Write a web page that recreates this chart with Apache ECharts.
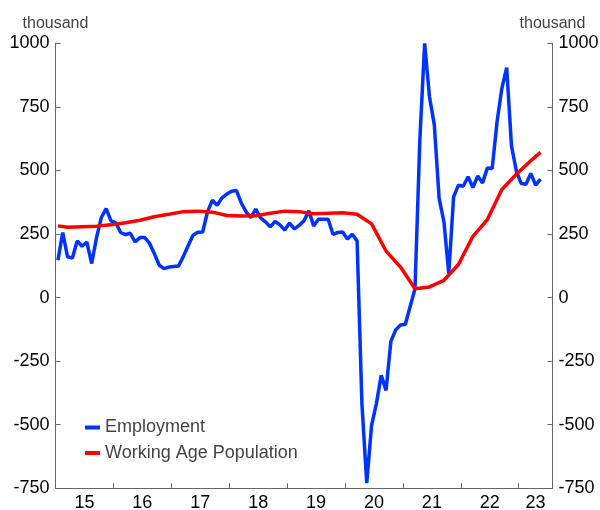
<!DOCTYPE html>
<html>
<head>
<meta charset="utf-8">
<script src="https://cdn.jsdelivr.net/npm/echarts@6/dist/echarts.min.js"></script>
<style>
html,body{margin:0;padding:0;background:#fff;}
#chart{width:600px;height:510px;}
</style>
</head>
<body>
<div id="chart"></div>
<script>
// ---- Data ----
const employmentStart = '2015-01';
const employment = [
  147, 256, 160, 156, 223, 202, 218, 134, 236, 315, 350, 302,
  294, 256, 248, 253, 219, 236, 236, 213, 172, 127, 114, 120,
  122, 124, 162, 205, 245, 257, 258, 337, 383, 363, 392, 407,
  418, 421, 372, 337, 315, 348, 313, 298, 278, 300, 286, 266,
  293, 270, 284, 302, 341, 282, 308, 308, 308, 249, 256, 258,
  230, 249, 223, -417, -730, -503, -417, -306, -365, -172, -127, -108,
  -105, -35, 35, 619, 1000, 790, 680, 390, 298, 94, 396, 442,
  438, 475, 433, 478, 451, 510, 508, 691, 823, 904, 596, 498,
  449, 446, 488, 442, 466
];
const populationMonths = [
  '2015-01','2015-03','2015-06','2015-09','2015-12',
  '2016-03','2016-06','2016-09','2016-12',
  '2017-03','2017-06','2017-09','2017-12',
  '2018-03','2018-06','2018-09','2018-12',
  '2019-03','2019-06','2019-09','2019-12',
  '2020-03','2020-06','2020-09','2020-12',
  '2021-03','2021-06','2021-09','2021-12',
  '2022-03','2022-06','2022-09','2022-12',
  '2023-03','2023-05'
];
const population = [
  282, 277, 279, 281, 286,
  294, 304, 318, 328,
  338, 340, 336, 323,
  321, 322, 332, 340,
  338, 330, 332, 334,
  328, 290, 183, 120,
  35, 42, 68, 130,
  241, 307, 425, 485,
  538, 571
];
const yearTicks = [2016, 2017, 2018, 2019, 2020, 2021, 2022, 2023];
const yearLabelPos = [2015.5, 2016.5, 2017.5, 2018.5, 2019.5, 2020.5, 2021.5, 2022.5, 2023.29];
const yearLabels = ['15', '16', '17', '18', '19', '20', '21', '22', '23'];
const yTicks = { min: -750, max: 1000, interval: 250 };
const seriesNames = ['Employment', 'Working Age Population'];
const unitLabel = 'thousand';

// ---- Helpers ----
function monthToX(s) {
  const [y, m] = s.split('-').map(Number);
  return y + (m - 0.5) / 12;
}
function addMonths(s, k) {
  let [y, m] = s.split('-').map(Number);
  const t = (m - 1) + k;
  y += Math.floor(t / 12);
  m = (t % 12) + 1;
  return y + '-' + String(m).padStart(2, '0');
}
const empData = employment.map((v, i) => [monthToX(addMonths(employmentStart, i)), v]);
const popData = population.map((v, i) => [monthToX(populationMonths[i]), v]);

const axisColor = '#666';
const font = 'Liberation Sans, Arial, sans-serif';

const yAxisBase = (pos) => ({
  type: 'value',
  position: pos,
  min: yTicks.min, max: yTicks.max, interval: yTicks.interval,
  name: unitLabel,
  nameLocation: 'end',
  nameGap: 12,
  nameTextStyle: { color: '#444', fontSize: 16, fontFamily: font, align: 'center' },
  axisLine: { show: true, onZero: false, lineStyle: { color: axisColor, width: 1 } },
  axisTick: { show: true, inside: true, length: 5, lineStyle: { color: axisColor } },
  axisLabel: { color: '#000', fontSize: 18, fontFamily: font, margin: 6, formatter: (v) => String(v) },
  splitLine: { show: false }
});

const chart = echarts.init(document.getElementById('chart'), null, { renderer: 'canvas' });
chart.setOption({
  animation: false,
  backgroundColor: '#fff',
  grid: { left: 55.5, right: 47.5, top: 43.3, bottom: 21.7, containLabel: false, outerBoundsMode: 'none' },
  legend: {
    orient: 'vertical',
    left: 80,
    top: 413.5,
    icon: 'rect',
    itemWidth: 15,
    itemHeight: 4,
    itemGap: 7.5,
    textStyle: { color: '#444', fontSize: 18, fontFamily: font },
    data: seriesNames
  },
  xAxis: {
    type: 'value',
    min: 2015,
    max: 2023.583,
    axisLine: { show: true, onZero: false, lineStyle: { color: axisColor, width: 1 } },
    axisTick: { show: true, inside: true, length: 5, customValues: yearTicks, lineStyle: { color: axisColor } },
    axisLabel: {
      color: '#000', fontSize: 18, fontFamily: font, margin: 6,
      customValues: yearLabelPos,
      formatter: (v) => {
        const i = yearLabelPos.findIndex(p => Math.abs(p - v) < 1e-6);
        return i >= 0 ? yearLabels[i] : '';
      }
    },
    splitLine: { show: false }
  },
  yAxis: [yAxisBase('left'), yAxisBase('right')],
  series: [
    {
      name: seriesNames[0], type: 'line', data: empData, showSymbol: false,
      lineStyle: { color: '#0033ff', width: 3.5 }, itemStyle: { color: '#0033ff' }
    },
    {
      name: seriesNames[1], type: 'line', data: popData, showSymbol: false,
      lineStyle: { color: '#ff0000', width: 3.5 }, itemStyle: { color: '#ff0000' }
    }
  ]
});
</script>
</body>
</html>
